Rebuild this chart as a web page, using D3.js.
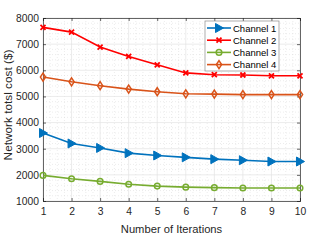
<!DOCTYPE html>
<html>
<head>
<meta charset="utf-8">
<script src="https://cdn.jsdelivr.net/npm/d3@7"></script>
<style>
  body { margin: 0; background: #fff; }
  svg { font-family: "Liberation Sans", Arial, sans-serif; }
</style>
</head>
<body>
<div id="chart"></div>
<script>
// data
const iterations = [1, 2, 3, 4, 5, 6, 7, 8, 9, 10];
const channel1 = [3600, 3200, 3030, 2830, 2740, 2670, 2600, 2560, 2510, 2510];
const channel2 = [7640, 7460, 6890, 6530, 6210, 5900, 5830, 5820, 5790, 5790];
const channel3 = [1980, 1850, 1750, 1640, 1570, 1530, 1510, 1500, 1500, 1500];
const channel4 = [5740, 5560, 5410, 5280, 5180, 5100, 5090, 5070, 5070, 5070];
const seriesNames = ["Channel 1", "Channel 2", "Channel 3", "Channel 4"];
const yTicks = [1000, 2000, 3000, 4000, 5000, 6000, 7000, 8000];

const series = [
  {name: seriesNames[0], values: channel1, color: "#0072BD", marker: "tri"},
  {name: seriesNames[1], values: channel2, color: "#FF0000", marker: "x"},
  {name: seriesNames[2], values: channel3, color: "#77AC30", marker: "circle"},
  {name: seriesNames[3], values: channel4, color: "#D95319", marker: "diamond"}
];

const W = 332, H = 249;
const margin = {top: 18, right: 32, bottom: 48, left: 43};
const width = W - margin.left - margin.right;
const height = H - margin.top - margin.bottom;

const svg = d3.select("#chart").append("svg")
    .attr("width", W)
    .attr("height", H);

const g = svg.append("g")
    .attr("transform", `translate(${margin.left},${margin.top})`);

const x = d3.scaleLinear().domain([1, 10]).range([0, width]);
const y = d3.scaleLinear().domain([1000, 8000]).range([height, 0]);

// minor grid (dotted)
const xMinor = d3.range(1, 10.001, 0.25).filter(d => Math.abs(d - Math.round(d)) > 0.01);
const yMinor = d3.range(1000, 8001, 200).filter(d => d % 1000 !== 0);

g.selectAll(".xminor").data(xMinor).enter().append("line")
    .attr("x1", d => x(d)).attr("x2", d => x(d))
    .attr("y1", 0).attr("y2", height)
    .attr("stroke", "#d8d8d8").attr("stroke-width", 0.5)
    .attr("stroke-dasharray", "1,2");
g.selectAll(".yminor").data(yMinor).enter().append("line")
    .attr("x1", 0).attr("x2", width)
    .attr("y1", d => y(d)).attr("y2", d => y(d))
    .attr("stroke", "#d8d8d8").attr("stroke-width", 0.5)
    .attr("stroke-dasharray", "1,2");

// major grid
g.selectAll(".xgrid").data(iterations).enter().append("line")
    .attr("x1", d => x(d)).attr("x2", d => x(d))
    .attr("y1", 0).attr("y2", height)
    .attr("stroke", "#e3e3e3").attr("stroke-width", 0.7);
g.selectAll(".ygrid").data(yTicks).enter().append("line")
    .attr("x1", 0).attr("x2", width)
    .attr("y1", d => y(d)).attr("y2", d => y(d))
    .attr("stroke", "#e3e3e3").attr("stroke-width", 0.7);

// axes
g.append("g")
    .attr("transform", `translate(0,${height})`)
    .call(d3.axisBottom(x).tickValues(iterations).tickSize(-3).tickPadding(7).tickFormat(d3.format("d")));
g.append("g")
    .call(d3.axisLeft(y).tickValues(yTicks).tickSize(-3).tickPadding(4).tickFormat(d3.format("d")));
g.append("g")
    .attr("transform", `translate(${width},0)`)
    .call(d3.axisRight(y).tickValues(yTicks).tickSize(-3).tickFormat(""));
g.append("g")
    .call(d3.axisTop(x).tickValues(iterations).tickSize(-3).tickFormat(""));

g.selectAll(".domain").attr("stroke", "#262626").attr("stroke-width", 0.7);
g.selectAll(".tick line").attr("stroke", "#262626").attr("stroke-width", 0.7);
g.selectAll(".tick text").attr("fill", "#262626").style("font-size", "10.3px");

// lines
const line = d3.line()
    .x((d, i) => x(iterations[i]))
    .y(d => y(d));

function drawMarker(sel, type, color) {
  if (type === "tri") {
    sel.append("path").attr("d", "M-3.5,-4.5L4.5,0L-3.5,4.5Z").attr("fill", color).attr("stroke", color);
  } else if (type === "x") {
    sel.append("path").attr("d", "M-2.5,-2.5L2.5,2.5M-2.5,2.5L2.5,-2.5")
        .attr("stroke", color).attr("stroke-width", 1.8).attr("fill", "none");
  } else if (type === "circle") {
    sel.append("circle").attr("r", 2.8).attr("fill", "none").attr("stroke", color).attr("stroke-width", 1.5);
  } else {
    sel.append("path").attr("d", "M0,-4L2.6,0L0,4L-2.6,0Z").attr("fill", "none").attr("stroke", color).attr("stroke-width", 1.5);
  }
}

series.forEach(s => {
  g.append("path")
      .datum(s.values)
      .attr("d", line)
      .attr("fill", "none")
      .attr("stroke", s.color)
      .attr("stroke-width", 1.6);
  g.selectAll(null).data(s.values).enter().append("g")
      .attr("transform", (d, i) => `translate(${x(iterations[i])},${y(d)})`)
      .each(function() { drawMarker(d3.select(this), s.marker, s.color); });
});

// legend
const legend = svg.append("g").attr("transform", "translate(205,21)");
legend.append("rect")
    .attr("width", 74).attr("height", 50)
    .attr("fill", "#fff").attr("stroke", "#8c8c8c").attr("stroke-width", 0.7);
series.forEach((s, i) => {
  const row = legend.append("g").attr("transform", `translate(0,${7 + i * 12.2})`);
  row.append("line").attr("x1", 2).attr("x2", 26).attr("y1", 0).attr("y2", 0)
      .attr("stroke", s.color).attr("stroke-width", 1.6);
  drawMarker(row.append("g").attr("transform", "translate(14,0)"), s.marker, s.color);
  row.append("text").attr("x", 28).attr("y", 3.5)
      .style("font-size", "9.5px").attr("fill", "#000").text(s.name);
});

// axis labels
svg.append("text")
    .attr("x", margin.left + width / 2).attr("y", 233)
    .attr("text-anchor", "middle").attr("fill", "#262626")
    .style("font-size", "11.2px")
    .text("Number of Iterations");
svg.append("text")
    .attr("transform", "translate(11.5,105) rotate(-90)")
    .attr("text-anchor", "middle").attr("fill", "#262626")
    .style("font-size", "11.8px")
    .text("Network totsl cost ($)");
</script>
</body>
</html>
